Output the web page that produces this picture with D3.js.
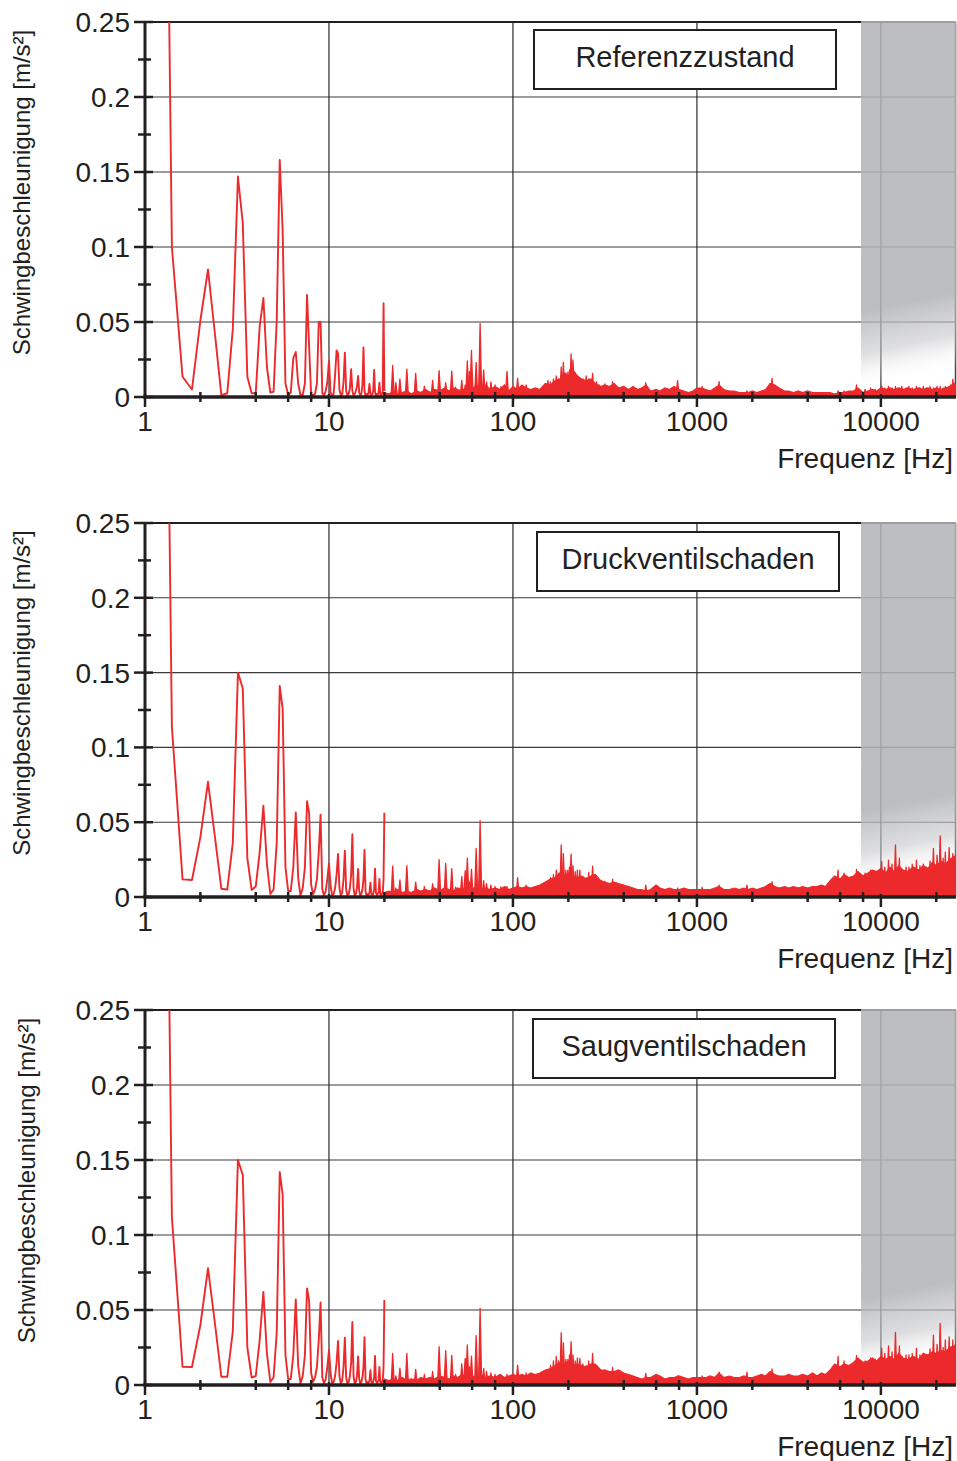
<!DOCTYPE html>
<html>
<head>
<meta charset="utf-8">
<script src="https://cdn.jsdelivr.net/npm/d3@7"></script>
<style>
  html, body { margin: 0; padding: 0; background: #fff; }
  svg { display: block; font-family: "Liberation Sans", Arial, Helvetica, sans-serif; }
</style>
</head>
<body>
<svg id="chart" width="957" height="1461"></svg>
<script>
// ---- Spectrum data: vibration acceleration [m/s²] over frequency [Hz] ----

const panelTitles = ["Referenzzustand", "Druckventilschaden", "Saugventilschaden"];

const yTicks = [0, 0.05, 0.1, 0.15, 0.2, 0.25];
const yTickLabels = ["0", "0.05", "0.1", "0.15", "0.2", "0.25"];
const yMinorTicks = [0.025, 0.075, 0.125, 0.175, 0.225];
const xTicks = [1, 10, 100, 1000, 10000];
const xTickLabels = ["1", "10", "100", "1000", "10000"];
const freqMin = 1;
const freqMax = 25600;
const bandStart = 7800;   // start of the shaded high-frequency range

// low-frequency bins (0.2 Hz resolution), drawn as a line
const lowFreq = [
  1.2, 1.4, 1.6, 1.8, 2.0, 2.2, 2.4, 2.6, 2.8, 3.0,
  3.2, 3.4, 3.6, 3.8, 4.0, 4.2, 4.4, 4.6, 4.8, 5.0,
  5.2, 5.4, 5.6, 5.8, 6.0, 6.2, 6.4, 6.6, 6.8, 7.0,
  7.2, 7.4, 7.6, 7.8, 8.0, 8.2, 8.4, 8.6, 8.8, 9.0,
  9.2, 9.4, 9.6, 9.8, 10.0, 10.2, 10.4, 10.6, 10.8, 11.0,
  11.2, 11.4, 11.6, 11.8, 12.0, 12.2, 12.4, 12.6, 12.8, 13.0,
  13.2, 13.4, 13.6, 13.8, 14.0, 14.2, 14.4, 14.6, 14.8, 15.0,
  15.2, 15.4, 15.6, 15.8, 16.0, 16.2, 16.4, 16.6, 16.8, 17.0,
  17.2, 17.4, 17.6, 17.8, 18.0, 18.2, 18.4, 18.6, 18.8, 19.0,
  19.2, 19.4, 19.6, 19.8, 20.0
];
const lowRef = [
  0.80, 0.100, 0.0135, 0.005, 0.051, 0.085, 0.042, 0.0013, 0.0025, 0.045,
  0.147, 0.116, 0.0135, 0.0025, 0.0025, 0.047, 0.066, 0.020, 0.003, 0.0035,
  0.051, 0.158, 0.111, 0.009, 0.0013, 0.003, 0.026, 0.030, 0.009, 0.0013,
  0.0013, 0.009, 0.068, 0.0335, 0.0013, 0.0013, 0.002, 0.009, 0.050, 0.050,
  0.0025, 0.0013, 0.004, 0.010, 0.024, 0.003, 0.001, 0.002, 0.015, 0.031,
  0.029, 0.005, 0.001, 0.002, 0.010, 0.0296, 0.004, 0.001, 0.002, 0.006,
  0.0185, 0.004, 0.001, 0.002, 0.004, 0.007, 0.014, 0.003, 0.001, 0.002,
  0.008, 0.033, 0.004, 0.001, 0.002, 0.001, 0.003, 0.0087, 0.002, 0.001,
  0.002, 0.004, 0.018, 0.003, 0.001, 0.002, 0.001, 0.003, 0.0095, 0.002,
  0.001, 0.002, 0.004, 0.0625, 0.004
];
const lowDruck = [
  0.80, 0.114, 0.0118, 0.0114, 0.040, 0.077, 0.040, 0.0055, 0.005, 0.036,
  0.150, 0.1395, 0.026, 0.0047, 0.007, 0.030, 0.061, 0.022, 0.002, 0.005,
  0.036, 0.141, 0.126, 0.020, 0.004, 0.004, 0.020, 0.0566, 0.013, 0.001,
  0.006, 0.020, 0.064, 0.056, 0.008, 0.002, 0.005, 0.012, 0.030, 0.055,
  0.005, 0.001, 0.004, 0.012, 0.0225, 0.008, 0.001, 0.002, 0.006, 0.015,
  0.0287, 0.006, 0.001, 0.003, 0.012, 0.031, 0.005, 0.001, 0.002, 0.006,
  0.015, 0.042, 0.006, 0.001, 0.002, 0.006, 0.0187, 0.004, 0.001, 0.002,
  0.005, 0.012, 0.0314, 0.004, 0.001, 0.002, 0.001, 0.003, 0.0096, 0.002,
  0.001, 0.002, 0.005, 0.019, 0.003, 0.001, 0.002, 0.003, 0.012, 0.002,
  0.001, 0.002, 0.003, 0.012, 0.0563
];
const lowSaug = [
  0.80, 0.112, 0.0122, 0.012, 0.040, 0.0778, 0.041, 0.0055, 0.0055, 0.0356,
  0.150, 0.140, 0.025, 0.005, 0.006, 0.030, 0.062, 0.021, 0.002, 0.005,
  0.035, 0.142, 0.127, 0.020, 0.004, 0.004, 0.020, 0.057, 0.013, 0.001,
  0.006, 0.020, 0.0644, 0.056, 0.008, 0.002, 0.005, 0.012, 0.030, 0.055,
  0.005, 0.001, 0.004, 0.012, 0.0233, 0.008, 0.001, 0.002, 0.006, 0.015,
  0.0293, 0.006, 0.001, 0.003, 0.012, 0.0316, 0.005, 0.001, 0.002, 0.006,
  0.015, 0.042, 0.006, 0.001, 0.002, 0.006, 0.019, 0.004, 0.001, 0.002,
  0.005, 0.012, 0.0318, 0.004, 0.001, 0.002, 0.001, 0.003, 0.0098, 0.002,
  0.001, 0.002, 0.005, 0.0193, 0.003, 0.001, 0.002, 0.003, 0.012, 0.002,
  0.001, 0.002, 0.003, 0.012, 0.0567
];

// broadband noise floor above 20 Hz, drawn as a filled area
const floorFreq = [
  20, 21.2, 22.4, 23.6, 25, 26.5, 28, 30, 31.5, 33.5,
  35.5, 37.5, 40, 42.5, 45, 47.5, 50, 53, 56, 60,
  63, 67, 71, 75, 80, 85, 90, 95, 100, 106,
  112, 118, 125, 132, 140, 150, 160, 170, 180, 190,
  200, 212, 224, 236, 250, 265, 280, 300, 315, 335,
  355, 375, 400, 425, 450, 475, 500, 530, 560, 600,
  630, 670, 710, 750, 800, 850, 900, 950, 1000, 1060,
  1120, 1180, 1250, 1320, 1400, 1500, 1600, 1700, 1800, 1900,
  2000, 2120, 2240, 2360, 2500, 2650, 2800, 3000, 3150, 3350,
  3550, 3750, 4000, 4250, 4500, 4750, 5000, 5300, 5600, 6000,
  6300, 6700, 7100, 7500, 8000, 8500, 9000, 9500, 10000, 10600,
  11200, 11800, 12500, 13200, 14000, 15000, 16000, 17000, 18000, 19000,
  20000, 21200, 22400, 23600, 25000, 25600
];
const floorRef = [
  0.003, 0.002, 0.004, 0.002, 0.003, 0.004, 0.002, 0.004, 0.003, 0.005,
  0.003, 0.005, 0.004, 0.006, 0.004, 0.006, 0.005, 0.004, 0.007, 0.005,
  0.008, 0.006, 0.008, 0.005, 0.007, 0.005, 0.008, 0.004, 0.007, 0.005,
  0.008, 0.006, 0.005, 0.006, 0.005, 0.009, 0.008, 0.011, 0.012, 0.016,
  0.014, 0.018, 0.014, 0.012, 0.011, 0.012, 0.009, 0.007, 0.008, 0.007,
  0.009, 0.006, 0.007, 0.005, 0.007, 0.005, 0.006, 0.008, 0.004, 0.005,
  0.004, 0.006, 0.005, 0.007, 0.005, 0.004, 0.003, 0.004, 0.006, 0.006,
  0.005, 0.004, 0.006, 0.008, 0.005, 0.004, 0.004, 0.003, 0.003, 0.003,
  0.004, 0.003, 0.004, 0.005, 0.009, 0.008, 0.006, 0.004, 0.004, 0.003,
  0.004, 0.003, 0.004, 0.003, 0.003, 0.003, 0.003, 0.003, 0.002, 0.003,
  0.003, 0.004, 0.004, 0.006, 0.003, 0.004, 0.005, 0.004, 0.006, 0.005,
  0.006, 0.005, 0.006, 0.005, 0.006, 0.005, 0.006, 0.005, 0.006, 0.005,
  0.006, 0.005, 0.006, 0.007, 0.009, 0.008
];
const floorDruck = [
  0.003, 0.004, 0.003, 0.005, 0.003, 0.004, 0.003, 0.005, 0.004, 0.005,
  0.004, 0.006, 0.004, 0.006, 0.005, 0.004, 0.006, 0.005, 0.007, 0.005,
  0.007, 0.005, 0.006, 0.005, 0.006, 0.005, 0.007, 0.005, 0.006, 0.007,
  0.006, 0.007, 0.006, 0.007, 0.008, 0.010, 0.012, 0.013, 0.016, 0.014,
  0.016, 0.014, 0.013, 0.014, 0.012, 0.014, 0.015, 0.011, 0.010, 0.009,
  0.010, 0.009, 0.008, 0.007, 0.006, 0.005, 0.005, 0.004, 0.005, 0.008,
  0.006, 0.005, 0.006, 0.005, 0.005, 0.006, 0.005, 0.005, 0.005, 0.005,
  0.005, 0.005, 0.006, 0.007, 0.005, 0.005, 0.006, 0.005, 0.006, 0.005,
  0.006, 0.005, 0.006, 0.007, 0.009, 0.007, 0.006, 0.007, 0.006, 0.007,
  0.006, 0.007, 0.006, 0.007, 0.007, 0.008, 0.007, 0.011, 0.014, 0.012,
  0.015, 0.013, 0.014, 0.017, 0.014, 0.016, 0.018, 0.017, 0.019, 0.016,
  0.020, 0.017, 0.021, 0.018, 0.017, 0.020, 0.018, 0.021, 0.019, 0.023,
  0.021, 0.024, 0.022, 0.025, 0.027, 0.028
];
const floorSaug = [
  0.004, 0.003, 0.004, 0.003, 0.005, 0.003, 0.004, 0.003, 0.005, 0.004,
  0.005, 0.004, 0.006, 0.005, 0.004, 0.006, 0.005, 0.007, 0.005, 0.006,
  0.005, 0.007, 0.005, 0.006, 0.005, 0.007, 0.005, 0.006, 0.007, 0.006,
  0.007, 0.006, 0.008, 0.007, 0.008, 0.010, 0.011, 0.013, 0.015, 0.014,
  0.016, 0.013, 0.014, 0.013, 0.012, 0.014, 0.014, 0.010, 0.010, 0.009,
  0.009, 0.010, 0.008, 0.007, 0.006, 0.005, 0.004, 0.005, 0.005, 0.007,
  0.006, 0.004, 0.005, 0.005, 0.006, 0.005, 0.004, 0.005, 0.005, 0.005,
  0.005, 0.006, 0.005, 0.008, 0.005, 0.006, 0.005, 0.005, 0.006, 0.005,
  0.005, 0.006, 0.007, 0.006, 0.009, 0.007, 0.006, 0.006, 0.007, 0.006,
  0.006, 0.007, 0.006, 0.008, 0.006, 0.008, 0.007, 0.010, 0.014, 0.012,
  0.014, 0.013, 0.015, 0.018, 0.015, 0.016, 0.018, 0.016, 0.019, 0.017,
  0.019, 0.017, 0.021, 0.018, 0.017, 0.019, 0.017, 0.021, 0.020, 0.022,
  0.021, 0.023, 0.022, 0.025, 0.026, 0.027
];

// discrete spectral lines (harmonics and narrow peaks) on top of the floor
const toneFreq = [
  22.2, 23.1, 24.3, 26.5, 29.6, 33.0, 36.6, 39.7, 43.1, 46.5,
  48.8, 52.7, 55.0, 56.5, 58.0, 59.5, 63.1, 66.3, 69.3, 71.9,
  75.9, 79.9, 86.0, 92.8, 106, 118, 155, 160, 166, 172,
  177, 183, 188, 194, 199, 203, 207, 212, 218, 224,
  231, 240, 250, 258, 271, 285, 295, 316, 348, 527,
  785, 1067, 1320, 1870, 2560, 5850, 6300, 7370, 8200, 8800,
  9300, 10100, 10500, 11000, 11500, 12000, 12600, 13000, 13700, 14200,
  14800, 15600, 16300, 17000, 17700, 18500, 19300, 20200, 21000, 21800,
  22400, 23500, 24000, 24600
];
const toneRef = [
  0.021, 0.0095, 0.012, 0.0185, 0.0158, 0.0073, 0.011, 0.0175, 0.0095, 0.0173,
  0.0065, 0.011, 0.008, 0.024, 0.017, 0.031, 0.023, 0.049, 0.018, 0.010,
  0.010, 0.008, 0.0069, 0.017, 0.0125, 0.008, 0.011, 0.010, 0.012, 0.014,
  0.012, 0.020, 0.023, 0.016, 0.0165, 0.018, 0.0287, 0.0247, 0.016, 0.014,
  0.0124, 0.012, 0.014, 0.012, 0.0158, 0.010, 0.008, 0.0087, 0.0102, 0.0095,
  0.0109, 0.007, 0.0102, 0.004, 0.0124, 0.004, 0.004, 0.008, 0.005, 0.006,
  0.005, 0.0073, 0.006, 0.007, 0.006, 0.007, 0.006, 0.007, 0.006, 0.007,
  0.006, 0.007, 0.006, 0.007, 0.006, 0.007, 0.006, 0.007, 0.007, 0.006,
  0.007, 0.007, 0.008, 0.0118
];
const toneDruck = [
  0.0207, 0.006, 0.0114, 0.021, 0.010, 0.007, 0.009, 0.025, 0.0225, 0.019,
  0.0066, 0.0136, 0.0176, 0.026, 0.010, 0.0185, 0.0325, 0.051, 0.011, 0.009,
  0.008, 0.007, 0.0067, 0.007, 0.0129, 0.008, 0.010, 0.013, 0.015, 0.018,
  0.016, 0.0348, 0.029, 0.018, 0.018, 0.020, 0.0287, 0.021, 0.017, 0.018,
  0.018, 0.014, 0.013, 0.0165, 0.0207, 0.014, 0.011, 0.0105, 0.012, 0.008,
  0.006, 0.0065, 0.008, 0.008, 0.0102, 0.018, 0.016, 0.0185, 0.016, 0.018,
  0.017, 0.0236, 0.020, 0.0247, 0.022, 0.0348, 0.026, 0.018, 0.020, 0.020,
  0.022, 0.0247, 0.021, 0.022, 0.020, 0.024, 0.0325, 0.028, 0.0408, 0.026,
  0.030, 0.033, 0.024, 0.029
];
const toneSaug = [
  0.021, 0.006, 0.0113, 0.021, 0.0104, 0.007, 0.009, 0.0255, 0.0229, 0.0198,
  0.007, 0.014, 0.0178, 0.0267, 0.012, 0.0193, 0.0329, 0.0511, 0.011, 0.009,
  0.008, 0.007, 0.007, 0.007, 0.0133, 0.008, 0.010, 0.013, 0.016, 0.019,
  0.016, 0.0349, 0.028, 0.017, 0.017, 0.020, 0.0289, 0.020, 0.016, 0.018,
  0.0178, 0.014, 0.013, 0.016, 0.021, 0.013, 0.011, 0.010, 0.0118, 0.0078,
  0.006, 0.006, 0.0085, 0.0085, 0.0107, 0.019, 0.016, 0.0198, 0.016, 0.018,
  0.017, 0.0245, 0.021, 0.026, 0.022, 0.0351, 0.026, 0.019, 0.020, 0.020,
  0.021, 0.0245, 0.020, 0.021, 0.020, 0.024, 0.0333, 0.027, 0.0411, 0.025,
  0.030, 0.032, 0.025, 0.030
];

const lowAmps = [lowRef, lowDruck, lowSaug];
const floorAmps = [floorRef, floorDruck, floorSaug];
const toneAmps = [toneRef, toneDruck, toneSaug];

// ---- layout ----
const panels = [
  { top: 22,   bottom: 397,  box: [534, 30, 302, 59],   titleX: 29.5 },
  { top: 523,  bottom: 897,  box: [537, 532, 302, 59],  titleX: 29.5 },
  { top: 1010, bottom: 1385, box: [533, 1019, 302, 59], titleX: 35 }
];
const plotLeft = 145, plotRight = 956;
const red = "#ec2a2c";
const ink = "#231f20";

const svg = d3.select("#chart");
const defs = svg.append("defs");
const x = d3.scaleLog().domain([freqMin, freqMax]).range([plotLeft, plotRight]);

// minor x ticks: 2, 4, 6, 8 of every decade
const xMinorTicks = x.ticks().filter(t => {
  const lead = Math.round(t / Math.pow(10, Math.floor(Math.log10(t) + 1e-9)));
  return [2, 4, 6, 8].includes(lead);
});

panels.forEach((p, i) => {
  const y = d3.scaleLinear().domain([0, 0.25]).range([p.bottom, p.top]);
  const g = svg.append("g");

  defs.append("clipPath").attr("id", "clip" + i)
    .append("rect")
    .attr("x", plotLeft).attr("y", p.top)
    .attr("width", plotRight - plotLeft).attr("height", p.bottom - p.top);

  // grid
  g.append("g").selectAll("line").data(yTicks.slice(1, -1)).join("line")
    .attr("x1", plotLeft).attr("x2", plotRight)
    .attr("y1", d => y(d)).attr("y2", d => y(d))
    .attr("stroke", "#3a3a3a").attr("stroke-width", 1.1);
  g.append("g").selectAll("line").data(xTicks.slice(1)).join("line")
    .attr("x1", d => x(d)).attr("x2", d => x(d))
    .attr("y1", p.top).attr("y2", p.bottom)
    .attr("stroke", "#2a2a2a").attr("stroke-width", 1.2);

  // frame: top and right edges
  g.append("line").attr("x1", plotLeft).attr("x2", plotRight)
    .attr("y1", p.top).attr("y2", p.top)
    .attr("stroke", ink).attr("stroke-width", 2);
  g.append("line").attr("x1", plotRight - 0.5).attr("x2", plotRight - 0.5)
    .attr("y1", p.top).attr("y2", p.bottom)
    .attr("stroke", "#444").attr("stroke-width", 1.5);

  // shaded high-frequency band, fading out towards the baseline
  const grad = defs.append("linearGradient").attr("id", "band" + i)
    .attr("gradientUnits", "userSpaceOnUse")
    .attr("x1", 898).attr("y1", y(0.062))
    .attr("x2", 914).attr("y2", y(0.012));
  grad.append("stop").attr("offset", 0).attr("stop-color", "#b2b3b7").attr("stop-opacity", 0.86);
  grad.append("stop").attr("offset", 0.55).attr("stop-color", "#c4c5c8").attr("stop-opacity", 0.55);
  grad.append("stop").attr("offset", 1).attr("stop-color", "#ffffff").attr("stop-opacity", 0);
  g.append("rect")
    .attr("x", x(bandStart)).attr("y", p.top - 1)
    .attr("width", x(freqMax) - x(bandStart)).attr("height", p.bottom - p.top + 1)
    .attr("fill", `url(#band${i})`);

  // spectrum
  const dg = g.append("g").attr("clip-path", `url(#clip${i})`);
  const floorData = floorFreq.map((f, k) => [f, floorAmps[i][k]]);
  dg.append("path").datum(floorData)
    .attr("d", d3.area().x(d => x(d[0])).y0(y(0)).y1(d => y(d[1])))
    .attr("fill", red).attr("stroke", red).attr("stroke-width", 1.2);

  const toneData = toneFreq.map((f, k) => [f, toneAmps[i][k]]);
  dg.append("g").selectAll("path").data(toneData).join("path")
    .attr("d", d => {
      const cx = x(d[0]);
      return `M${cx - 1.6},${y(0)}L${cx},${y(d[1])}L${cx + 1.6},${y(0)}Z`;
    })
    .attr("fill", red).attr("stroke", red).attr("stroke-width", 1.3)
    .attr("stroke-linejoin", "round");

  const lowData = lowFreq.map((f, k) => [f, lowAmps[i][k]]);
  dg.append("path").datum(lowData)
    .attr("d", d3.line().x(d => x(d[0])).y(d => y(d[1])))
    .attr("fill", "none").attr("stroke", red).attr("stroke-width", 1.9)
    .attr("stroke-linejoin", "round");

  // axes
  g.append("line").attr("x1", plotLeft - 1.5).attr("x2", plotRight)
    .attr("y1", p.bottom).attr("y2", p.bottom)
    .attr("stroke", ink).attr("stroke-width", 3.5);
  g.append("line").attr("x1", plotLeft).attr("x2", plotLeft)
    .attr("y1", p.top - 1).attr("y2", p.bottom + 1.5)
    .attr("stroke", ink).attr("stroke-width", 3);

  // y ticks
  g.append("g").selectAll("line").data(yTicks).join("line")
    .attr("x1", plotLeft - 11).attr("x2", plotLeft + 8)
    .attr("y1", d => y(d)).attr("y2", d => y(d))
    .attr("stroke", ink).attr("stroke-width", 2.5);
  g.append("g").selectAll("line").data(yMinorTicks).join("line")
    .attr("x1", plotLeft - 7).attr("x2", plotLeft + 6)
    .attr("y1", d => y(d)).attr("y2", d => y(d))
    .attr("stroke", ink).attr("stroke-width", 2.5);
  g.append("g").selectAll("text").data(yTicks).join("text")
    .attr("x", 130).attr("y", d => y(d)).attr("dy", "0.36em")
    .attr("text-anchor", "end").attr("font-size", 28).attr("fill", ink)
    .text((d, k) => yTickLabels[k]);

  // x ticks
  g.append("g").selectAll("line").data(xTicks).join("line")
    .attr("x1", d => x(d)).attr("x2", d => x(d))
    .attr("y1", p.bottom - 3).attr("y2", p.bottom + 10)
    .attr("stroke", ink).attr("stroke-width", 2.5);
  g.append("g").selectAll("line").data(xMinorTicks).join("line")
    .attr("x1", d => x(d)).attr("x2", d => x(d))
    .attr("y1", p.bottom - 5).attr("y2", p.bottom + 5)
    .attr("stroke", ink).attr("stroke-width", 2.5);
  g.append("g").selectAll("text").data(xTicks).join("text")
    .attr("x", d => x(d)).attr("y", p.bottom + 34)
    .attr("text-anchor", "middle").attr("font-size", 28).attr("fill", ink)
    .text((d, k) => xTickLabels[k]);

  // axis titles
  g.append("text")
    .attr("x", 953).attr("y", p.bottom + 71)
    .attr("text-anchor", "end").attr("font-size", 28).attr("fill", ink)
    .text("Frequenz [Hz]");
  g.append("text")
    .attr("transform", `translate(${p.titleX},${(p.top + p.bottom) / 2 - 17}) rotate(-90)`)
    .attr("text-anchor", "middle").attr("font-size", 24).attr("fill", ink)
    .text("Schwingbeschleunigung [m/s²]");

  // condition label box
  const [bx, by, bw, bh] = p.box;
  g.append("rect").attr("x", bx).attr("y", by).attr("width", bw).attr("height", bh)
    .attr("fill", "#fff").attr("stroke", ink).attr("stroke-width", 2);
  g.append("text")
    .attr("x", bx + bw / 2).attr("y", by + 37)
    .attr("text-anchor", "middle").attr("font-size", 29).attr("fill", ink)
    .text(panelTitles[i]);
});
</script>
</body>
</html>
